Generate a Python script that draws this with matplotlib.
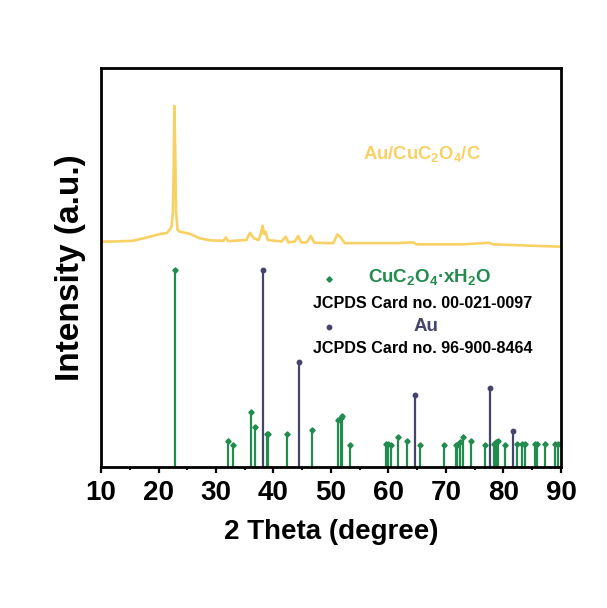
import matplotlib
matplotlib.use("Agg")
import matplotlib.pyplot as plt
from matplotlib.ticker import MultipleLocator

plt.rcParams['font.family'] = ['Liberation Sans', 'DejaVu Sans']
plt.rcParams['font.weight'] = 'bold'
plt.rcParams['mathtext.fontset'] = 'custom'
plt.rcParams['mathtext.rm'] = 'Liberation Sans:bold'
plt.rcParams['mathtext.bf'] = 'Liberation Sans:bold'
plt.rcParams['mathtext.default'] = 'bf'

# Measured XRD curve (Au/CuC2O4/C), offset upward
xrd_2theta = [10.0, 12.0, 15.6, 18.5, 20.3, 21.4, 22.0, 22.3, 22.5, 22.65, 22.75, 22.9,
              23.05, 23.3, 23.6, 24.6, 25.5, 27.2, 29.0, 31.3, 31.7, 32.1, 35.3, 35.9,
              36.6, 37.4, 37.8, 38.1, 38.35, 38.6, 39.0, 41.4, 42.1, 42.6, 43.7, 44.3,
              44.8, 45.8, 46.5, 47.1, 50.4, 51.1, 51.6, 52.4, 57.0, 61.4, 64.3, 64.9,
              73.0, 77.4, 78.2, 90.0]
xrd_intensity = [56.5, 56.5, 56.7, 57.7, 58.4, 58.6, 59.5, 60.5, 63.7, 75.0, 90.5, 80.0,
                 64.0, 59.5, 59.0, 58.7, 58.4, 57.3, 56.8, 56.7, 57.5, 56.6, 56.9, 58.7,
                 57.3, 56.9, 58.4, 60.5, 58.4, 59.0, 56.9, 56.5, 57.7, 56.3, 56.5, 57.9,
                 56.3, 56.3, 57.9, 56.2, 56.1, 58.3, 57.7, 56.1, 56.1, 56.1, 56.3, 55.8,
                 55.8, 56.2, 55.8, 55.2]

# Reference card CuC2O4·xH2O (JCPDS 00-021-0097)
cu_pos = [22.85, 32.0, 32.9, 36.1, 36.8, 38.8, 39.1, 42.3, 46.75, 51.3, 51.7, 52.0,
          53.3, 59.6, 60.0, 60.4, 61.65, 63.2, 65.5, 69.6, 71.7, 72.0, 72.4, 73.0,
          74.35, 76.8, 78.4, 78.7, 79.0, 80.3, 82.3, 83.3, 83.7, 85.4, 85.8, 87.3,
          89.0, 89.4]
cu_int = [49.4, 6.5, 5.5, 13.7, 10.1, 8.3, 8.3, 8.2, 9.3, 11.8, 12.4, 12.9,
          5.5, 5.7, 5.7, 5.5, 7.5, 6.4, 5.5, 5.5, 5.5, 5.5, 6.3, 7.4,
          6.5, 5.5, 5.7, 6.3, 6.5, 5.6, 5.7, 5.7, 5.7, 5.7, 5.7, 5.7,
          5.7, 5.7]

# Reference card Au (JCPDS 96-900-8464)
au_pos = [38.2, 44.4, 64.6, 77.6, 81.7]
au_int = [49.4, 26.4, 18.0, 19.9, 9.1]

xticks = [10, 20, 30, 40, 50, 60, 70, 80, 90]

c_curve = '#F8D164'
c_green = '#228B4E'
c_navy = '#45456C'

fig = plt.figure(figsize=(6.07, 6.08), dpi=100)
ax = fig.add_axes([0.1664, 0.2319, 0.7578, 0.6563])

ax.plot(xrd_2theta, xrd_intensity, color=c_curve, lw=1.9, solid_joinstyle='round')

ax.vlines(cu_pos, 0, cu_int, color=c_green, lw=1.6)
ax.plot(cu_pos, cu_int, ls='none', marker='D', ms=2.7, color=c_green)
ax.vlines(au_pos, 0, au_int, color=c_navy, lw=1.6)
ax.plot(au_pos, au_int, ls='none', marker='o', ms=3.2, color=c_navy)

ax.set_xlim(10, 90)
ax.set_ylim(0, 100)
ax.set_xticks(xticks)
ax.set_xticklabels([str(t) for t in xticks])
ax.xaxis.set_minor_locator(MultipleLocator(5))
ax.set_yticks([])
ax.tick_params(axis='x', which='major', direction='out', length=4.5, width=1.6,
               labelsize=20, pad=5)
ax.tick_params(axis='x', which='minor', direction='out', length=2.5, width=1.4)
for s in ax.spines.values():
    s.set_linewidth(2.0)

ax.set_xlabel('2 Theta (degree)', fontsize=20, fontweight='bold', labelpad=9)
ax.set_ylabel('Intensity (a.u.)', fontsize=24, fontweight='bold', labelpad=11)

ax.text(0.570, 0.784, r'Au/CuC$_2$O$_4$/C', transform=ax.transAxes, ha='left',
        va='center', fontsize=13.3, color=c_curve, fontweight='bold')

ax.plot([0.496], [0.471], transform=ax.transAxes, marker='D', ms=2.7,
        color=c_green, ls='none', clip_on=False)
ax.text(0.580, 0.476, r'CuC$_2$O$_4$·xH$_2$O', transform=ax.transAxes, ha='left',
        va='center', fontsize=13.5, color=c_green, fontweight='bold')
ax.text(0.700, 0.411, 'JCPDS Card no. 00-021-0097', transform=ax.transAxes,
        ha='center', va='center', fontsize=11.6, color='black', fontweight='bold')
ax.plot([0.496], [0.351], transform=ax.transAxes, marker='o', ms=3.2,
        color=c_navy, ls='none', clip_on=False)
ax.text(0.707, 0.352, 'Au', transform=ax.transAxes, ha='center', va='center',
        fontsize=13.5, color=c_navy, fontweight='bold')
ax.text(0.700, 0.296, 'JCPDS Card no. 96-900-8464', transform=ax.transAxes,
        ha='center', va='center', fontsize=11.6, color='black', fontweight='bold')

fig.savefig('out.png', dpi=100)
